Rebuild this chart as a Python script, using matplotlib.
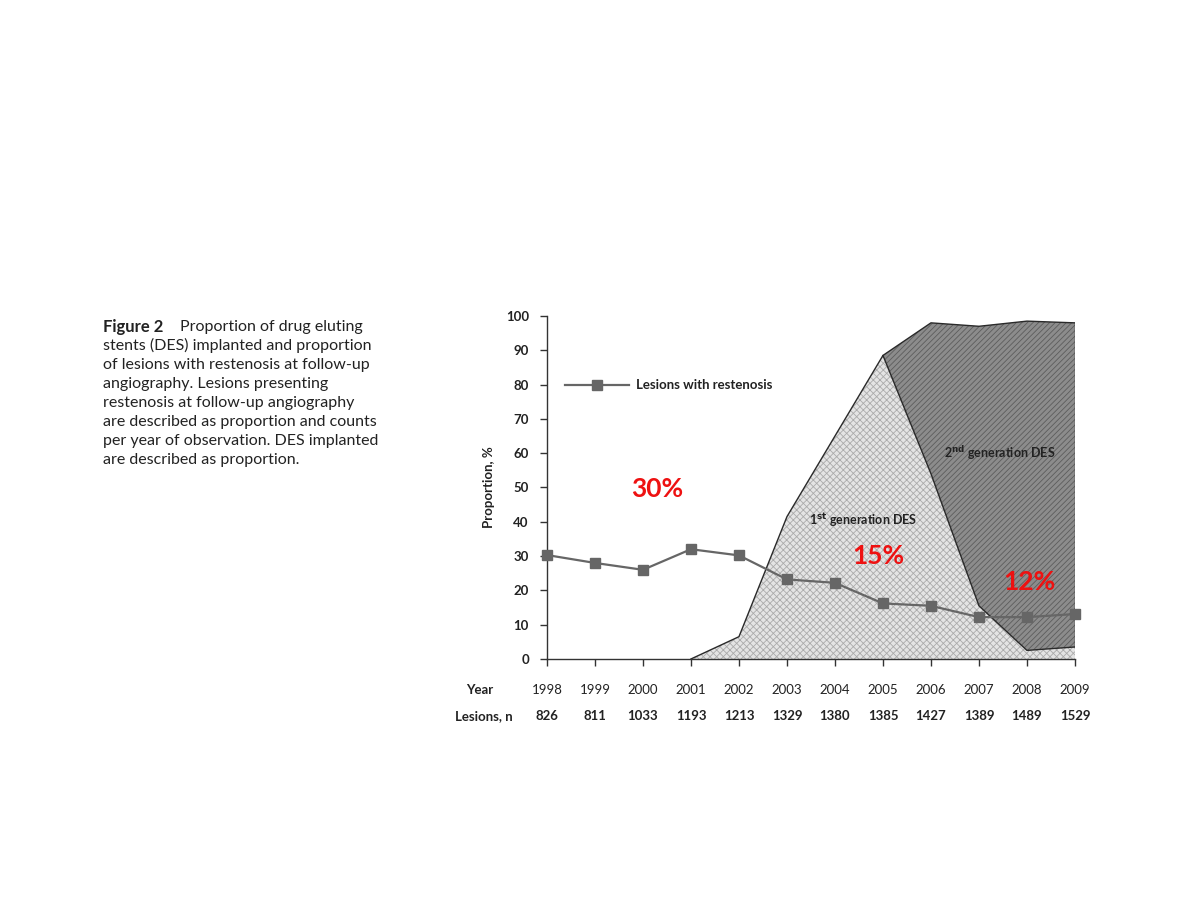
import matplotlib
matplotlib.use("Agg")
import matplotlib.pyplot as plt
import numpy as np

years = [1998, 1999, 2000, 2001, 2002, 2003, 2004, 2005, 2006, 2007, 2008, 2009]
lesions_n = [826, 811, 1033, 1193, 1213, 1329, 1380, 1385, 1427, 1389, 1489, 1529]
restenosis = [30.3, 28.0, 26.0, 32.0, 30.2, 23.2, 22.2, 16.2, 15.5, 12.2, 12.2, 13.1]
first_gen = [0, 0, 0, 0, 6.5, 41.5, 65.0, 88.5, 54.0, 15.5, 2.5, 3.5]
second_gen = [0, 0, 0, 0, 0, 0, 0, 0, 44.0, 81.5, 96.0, 94.5]
period_labels = ["30%", "15%", "12%"]
period_pos = [(2000.3, 49.5), (2004.9, 30.0), (2008.05, 22.3)]
yticks = list(range(0, 101, 10))

caption_head = "Figure 2"
caption_first = "Proportion of drug eluting"
caption_rest = ("stents (DES) implanted and proportion\n"
                "of lesions with restenosis at follow-up\n"
                "angiography. Lesions presenting\n"
                "restenosis at follow-up angiography\n"
                "are described as proportion and counts\n"
                "per year of observation. DES implanted\n"
                "are described as proportion.")

plt.rcParams['font.family'] = ['Lato', 'DejaVu Sans']
plt.rcParams['hatch.linewidth'] = 0.6

fig = plt.figure(figsize=(12, 9), dpi=100)
fig.patch.set_facecolor('white')
ax = fig.add_axes([0.4558, 0.2678, 0.44, 0.3811])

x = np.array(years, dtype=float)
f1 = np.array(first_gen, dtype=float)
f2 = np.array(second_gen, dtype=float)
total = f1 + f2
mask1 = x >= 2001
mask2 = x >= 2005

# 1st generation DES area
ax.fill_between(x, 0, f1, where=mask1, facecolor='#e4e4e4', edgecolor='#ababab',
                hatch='xxxxx', linewidth=0, zorder=1)
# 2nd generation DES area
ax.fill_between(x, f1, total, where=mask2, facecolor='#8c8c8c', edgecolor='#5c5c5c',
                hatch='//////', linewidth=0, zorder=1)

# outlines
ax.plot(x[mask1], f1[mask1], color='#2a2a2a', lw=1.0, zorder=2)
ax.plot(x[mask2], total[mask2], color='#2a2a2a', lw=1.0, zorder=2)
ax.plot([x[-1], x[-1]], [f1[-1], total[-1]], color='#2a2a2a', lw=1.0, zorder=2)

# restenosis line
ax.plot(x, restenosis, color='#666666', lw=1.6, marker='s', markersize=7.5,
        markerfacecolor='#666666', markeredgecolor='#666666', zorder=4, clip_on=False)

ax.set_xlim(1998, 2009)
ax.set_ylim(0, 100)
ax.set_yticks(yticks)
ax.set_yticklabels([str(t) for t in yticks], fontsize=9.5, fontweight='bold', color='#222222')
ax.set_xticks(years)
ax.set_xticklabels([])
ax.tick_params(axis='both', direction='out', length=5, width=1.0, color='#333333')
ax.tick_params(axis='y', pad=8)
for s in ['top', 'right']:
    ax.spines[s].set_visible(False)
for s in ['left', 'bottom']:
    ax.spines[s].set_color('#333333')
    ax.spines[s].set_linewidth(1.0)
ax.set_ylabel("Proportion, %", fontsize=9.5, fontweight='bold', color='#222222', labelpad=8)

# legend
ax.plot([1998.38, 1999.7], [80, 80], color='#666666', lw=1.6, zorder=4)
ax.plot([1999.04], [80], marker='s', markersize=7.5, color='#666666', zorder=5)
ax.text(1999.86, 80, "Lesions with restenosis", fontsize=9.5, fontweight='bold',
        color='#222222', va='center', ha='left')

# area labels
ax.text(2004.58, 40.5, r"1$^{\mathbf{st}}$ generation DES", fontsize=9, fontweight='bold',
        color='#222222', ha='center', va='center', zorder=5)
ax.text(2007.44, 60.0, r"2$^{\mathbf{nd}}$ generation DES", fontsize=9, fontweight='bold',
        color='#222222', ha='center', va='center', zorder=5)

# red period labels
for lab, (px, py) in zip(period_labels, period_pos):
    ax.text(px, py, lab, fontsize=19, fontweight='bold', color='#ee1111',
            ha='center', va='center', zorder=6)

# table below axis
trans = ax.get_xaxis_transform()
fig.text(466 / 1200, 1 - 690 / 900, "Year", fontsize=9.5, fontweight='bold', color='#222222',
         ha='left', va='center')
fig.text(455 / 1200, 1 - 716 / 900, "Lesions, n", fontsize=9.5, fontweight='bold', color='#222222',
         ha='left', va='center')
for yr, n in zip(years, lesions_n):
    ax.text(yr, -0.09, str(yr), transform=trans, fontsize=9.5, color='#222222',
            ha='center', va='center', clip_on=False)
    ax.text(yr, -0.166, str(n), transform=trans, fontsize=9.5, fontweight='bold', color='#222222',
            ha='center', va='center', clip_on=False)

# caption
fig.text(103 / 1200, 1 - 327 / 900, caption_head, fontsize=12, fontweight='bold',
         color='#222222', ha='left', va='center')
fig.text(180 / 1200, 1 - 327 / 900, caption_first, fontsize=11.5, color='#222222',
         ha='left', va='center')
fig.text(103 / 1200, 1 - 338 / 900, caption_rest, fontsize=11.5, color='#222222',
         ha='left', va='top', linespacing=1.46)

fig.savefig("out.png", dpi=100, facecolor='white')
